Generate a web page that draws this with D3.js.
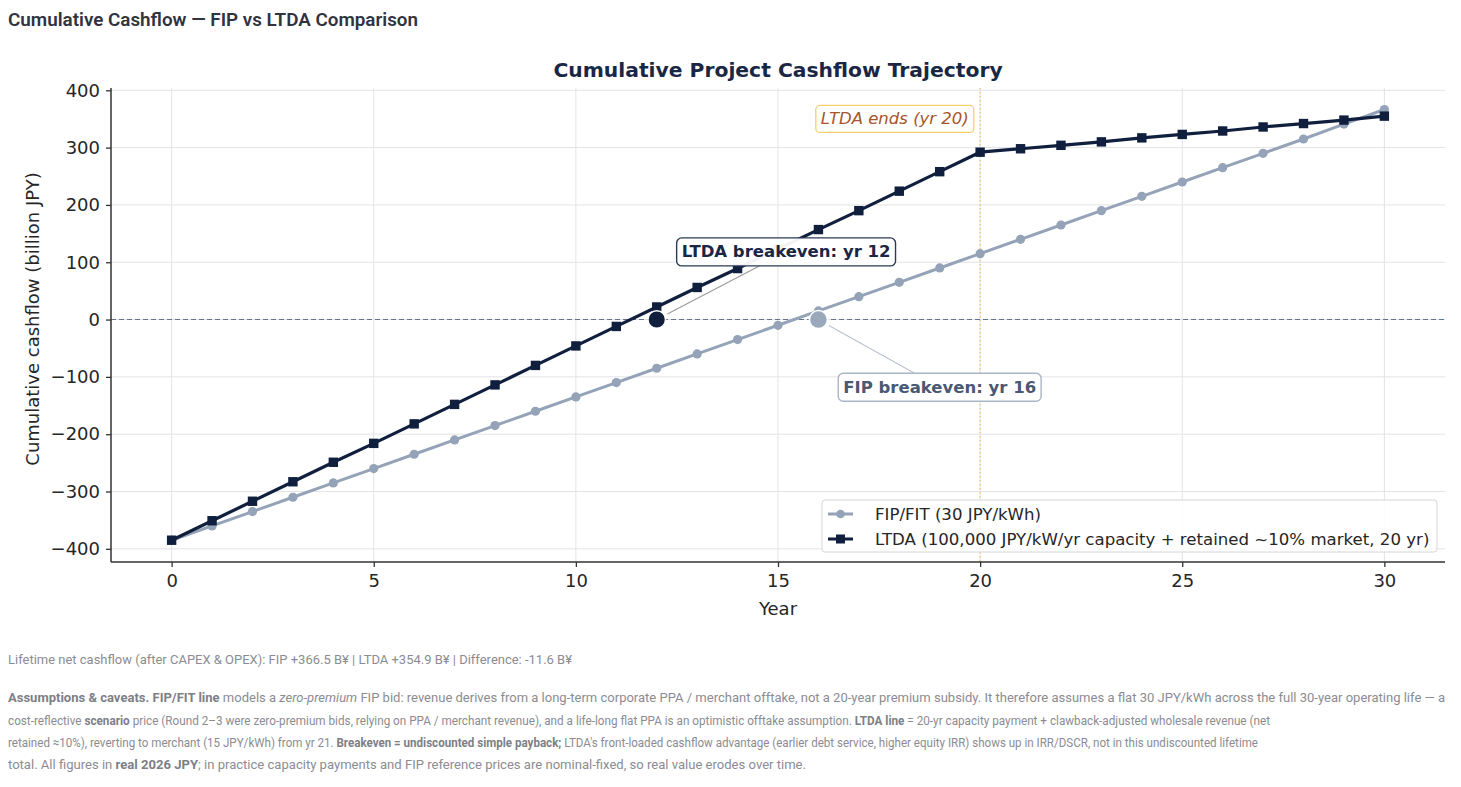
<!DOCTYPE html>
<html>
<head>
<meta charset="utf-8">
<script src="https://cdn.jsdelivr.net/npm/d3@7"></script>
<style>
  body { margin: 0; background: #fff; }
  #page { position: relative; width: 1461px; height: 787px; overflow: hidden; }
  .line {
    position: absolute; left: 8px; white-space: pre; line-height: 20px;
    font-family: "Source Sans Pro", "Liberation Sans Narrow", "Roboto", sans-serif;
    transform-origin: 0 50%;
  }
  .head { font-size: 17.5px; font-weight: 600; color: #31333f; }
  .cap { font-size: 13.5px; color: #8b8c93; }
  .cap b { font-weight: 700; color: #7d7f87; }
  svg text { font-family: "DejaVu Sans", sans-serif; }
</style>
</head>
<body>
<div id="page"><div id="my_dataviz"></div></div>
<script>
// chart data (billion JPY, cumulative)
const years = d3.range(0, 31);
const fipValues = [-385, -360, -335, -310, -285, -260, -235, -210, -185, -160, -135,
  -110, -85, -60, -35, -10, 15, 40, 65, 90, 115, 140, 165, 190, 215, 240, 265, 290,
  315, 341, 366.5];
const ltdaValues = [-385, -351, -317, -283, -249, -216, -182, -148, -114, -80, -46,
  -12, 22, 56, 89, 123, 157, 190, 224, 258, 292, 298, 304, 310, 317, 323, 329, 336,
  342, 348, 354.9];
const xTicks = [0, 5, 10, 15, 20, 25, 30];
const yTicks = [-400, -300, -200, -100, 0, 100, 200, 300, 400];
const seriesNames = ["FIP/FIT (30 JPY/kWh)",
  "LTDA (100,000 JPY/kW/yr capacity + retained ~10% market, 20 yr)"];
const breakevenYears = { ltda: 12, fip: 16 };
const ltdaEndYear = 20;

const fipColor = "#94a3b8",
  ltdaColor = "#0f1f3d";

// set the dimensions and margins of the graph
const margin = { top: 88, right: 16, bottom: 225, left: 111 },
  width = 1461 - margin.left - margin.right,
  height = 787 - margin.top - margin.bottom;

const root = d3
  .select("#my_dataviz")
  .append("svg")
  .attr("width", 1461)
  .attr("height", 787)
  .style("position", "absolute")
  .style("left", 0)
  .style("top", 0);

const svg = root.append("g").attr("transform", `translate(${margin.left},${margin.top})`);

const x = d3.scaleLinear().domain([-1.5, 31.5]).range([0, width]);
const y = d3.scaleLinear().domain([-423, 404]).range([height, 0]);

const font = "'DejaVu Sans', sans-serif";

// grid
svg
  .append("g")
  .selectAll("line")
  .data(xTicks)
  .join("line")
  .attr("x1", (d) => x(d))
  .attr("x2", (d) => x(d))
  .attr("y1", 0)
  .attr("y2", height)
  .attr("stroke", "#e3e3e6")
  .attr("stroke-width", 1);
svg
  .append("g")
  .selectAll("line")
  .data(yTicks)
  .join("line")
  .attr("x1", 0)
  .attr("x2", width)
  .attr("y1", (d) => y(d))
  .attr("y2", (d) => y(d))
  .attr("stroke", "#e3e3e6")
  .attr("stroke-width", 1);

// zero line
svg
  .append("line")
  .attr("x1", 0)
  .attr("x2", width)
  .attr("y1", y(0))
  .attr("y2", y(0))
  .attr("stroke", "#64748b")
  .attr("stroke-width", 1.1)
  .attr("stroke-dasharray", "5,3");

// LTDA end marker
svg
  .append("line")
  .attr("x1", x(ltdaEndYear))
  .attr("x2", x(ltdaEndYear))
  .attr("y1", 0)
  .attr("y2", height)
  .attr("stroke", "#f0c060")
  .attr("stroke-width", 1.2)
  .attr("stroke-dasharray", "1.5,2.5");

// axes
const xAxis = svg
  .append("g")
  .attr("transform", `translate(0, ${height})`)
  .call(d3.axisBottom(x).tickValues(xTicks).tickSize(5).tickPadding(7));
const yAxis = svg
  .append("g")
  .call(d3.axisLeft(y).tickValues(yTicks).tickSize(5).tickPadding(6)
    .tickFormat((d) => (d < 0 ? "\u2212" + Math.abs(d) : d)));
[xAxis, yAxis].forEach((a) => {
  a.attr("font-family", null);
  a.select(".domain").attr("stroke", "#333").attr("stroke-width", 1.5);
  a.selectAll(".tick line").attr("stroke", "#333").attr("stroke-width", 1.3);
  a.selectAll("text").style("font-family", font).style("font-size", "18px").attr("fill", "#262626");
});
yAxis.select(".domain").attr("d", `M0,${height}V0`);
xAxis.select(".domain").attr("d", `M0,0H${width}`);

// axis labels
svg
  .append("text")
  .attr("x", width / 2)
  .attr("y", height + 53)
  .attr("text-anchor", "middle")
  .style("font-family", font)
  .style("font-size", "18px")
  .attr("fill", "#262626")
  .text("Year");
svg
  .append("text")
  .attr("transform", `translate(${32 - margin.left}, ${height / 2 - 6}) rotate(-90)`)
  .attr("text-anchor", "middle")
  .attr("dominant-baseline", "central")
  .style("font-family", font)
  .style("font-size", "18px")
  .attr("fill", "#262626")
  .text("Cumulative cashflow (billion JPY)");

// chart title
svg
  .append("text")
  .attr("x", width / 2)
  .attr("y", -11)
  .attr("text-anchor", "middle")
  .style("font-family", font)
  .style("font-size", "20.3px")
  .style("font-weight", "bold")
  .attr("fill", "#1a2744")
  .text("Cumulative Project Cashflow Trajectory");

// lines
const fipData = years.map((yr, i) => ({ yr, v: fipValues[i] }));
const ltdaData = years.map((yr, i) => ({ yr, v: ltdaValues[i] }));
const line = d3.line().x((d) => x(d.yr)).y((d) => y(d.v));

svg.append("path").datum(fipData).attr("d", line)
  .attr("fill", "none").attr("stroke", fipColor).attr("stroke-width", 3);
svg.append("g").selectAll("circle").data(fipData).join("circle")
  .attr("cx", (d) => x(d.yr)).attr("cy", (d) => y(d.v)).attr("r", 4.6)
  .attr("fill", fipColor);

svg.append("path").datum(ltdaData).attr("d", line)
  .attr("fill", "none").attr("stroke", ltdaColor).attr("stroke-width", 3.2);
svg.append("g").selectAll("rect").data(ltdaData).join("rect")
  .attr("x", (d) => x(d.yr) - 4.7).attr("y", (d) => y(d.v) - 4.7)
  .attr("width", 9.4).attr("height", 9.4)
  .attr("fill", ltdaColor);

// annotation boxes with connector lines
function annotate(px, py, cx, cy, label, opts) {
  const g = svg.append("g");
  const t = g.append("text")
    .attr("x", cx).attr("y", cy)
    .attr("text-anchor", "middle")
    .attr("dominant-baseline", "central")
    .style("font-family", font)
    .style("font-size", "16.5px")
    .style("font-weight", "bold")
    .attr("fill", opts.text)
    .text(label);
  const bb = t.node().getBBox();
  const padX = 5, padY = 5;
  const bx0 = bb.x - padX, bx1 = bb.x + bb.width + padX;
  const by0 = cy - 9 - padY, by1 = cy + 9 + padY;
  // connector from point toward box centre, stopped where it enters the box
  const dx = cx - px, dy = cy - py;
  const len = Math.hypot(dx, dy);
  const tEdge = Math.max(
    ((dx > 0 ? bx0 : bx1) - px) / dx,
    ((dy > 0 ? by0 : by1) - py) / dy
  );
  const t0 = 12 / len;
  g.insert("line", "text")
    .attr("x1", px + dx * t0).attr("y1", py + dy * t0)
    .attr("x2", px + dx * tEdge).attr("y2", py + dy * tEdge)
    .attr("stroke", opts.conn).attr("stroke-width", 1.1);
  g.insert("rect", "text")
    .attr("x", bx0).attr("y", by0)
    .attr("width", bx1 - bx0).attr("height", by1 - by0)
    .attr("rx", 5)
    .attr("fill", "#fff").attr("fill-opacity", 0.95)
    .attr("stroke", opts.border).attr("stroke-width", 1.4);
}

// breakeven markers
svg.append("circle")
  .attr("cx", x(breakevenYears.ltda)).attr("cy", y(0)).attr("r", 8.8)
  .attr("fill", ltdaColor).attr("stroke", "#fff").attr("stroke-width", 1.5);
svg.append("circle")
  .attr("cx", x(breakevenYears.fip)).attr("cy", y(0)).attr("r", 9)
  .attr("fill", "#9aa8bc").attr("stroke", "#fff").attr("stroke-width", 1.5);

annotate(x(breakevenYears.ltda), y(0), x(15.2), y(118),
  "LTDA breakeven: yr " + breakevenYears.ltda,
  { text: "#1a2744", border: "#2d3a55", conn: "#9a9a9a" });
annotate(x(breakevenYears.fip), y(0), x(19), y(-118),
  "FIP breakeven: yr " + breakevenYears.fip,
  { text: "#4a5872", border: "#aab5c8", conn: "#b9c2cf" });

// LTDA ends label
const endG = svg.append("g");
const endT = endG.append("text")
  .attr("x", x(19.72)).attr("y", y(350))
  .attr("text-anchor", "end")
  .attr("dominant-baseline", "central")
  .style("font-family", font)
  .style("font-size", "16.5px")
  .style("font-style", "italic")
  .attr("fill", "#a5562a")
  .text("LTDA ends (yr " + ltdaEndYear + ")");
const eb = endT.node().getBBox();
endG.insert("rect", "text")
  .attr("x", eb.x - 5).attr("y", y(350) - 13.5)
  .attr("width", eb.width + 10).attr("height", 27)
  .attr("rx", 4)
  .attr("fill", "#fff")
  .attr("stroke", "#f6cf70").attr("stroke-width", 1.3);

// legend
const lg = svg.append("g").attr("transform", `translate(${822 - margin.left}, ${500 - margin.top})`);
lg.append("rect")
  .attr("width", 615).attr("height", 52).attr("rx", 3)
  .attr("fill", "#fff").attr("fill-opacity", 0.85)
  .attr("stroke", "#d6d6d6");
[
  { name: seriesNames[0], color: fipColor, shape: "circle", yy: 14 },
  { name: seriesNames[1], color: ltdaColor, shape: "square", yy: 39 },
].forEach((s) => {
  lg.append("line").attr("x1", 6).attr("x2", 31).attr("y1", s.yy).attr("y2", s.yy)
    .attr("stroke", s.color).attr("stroke-width", 3);
  if (s.shape === "circle") {
    lg.append("circle").attr("cx", 18.5).attr("cy", s.yy).attr("r", 4.3).attr("fill", s.color);
  } else {
    lg.append("rect").attr("x", 14).attr("y", s.yy - 4.5).attr("width", 9).attr("height", 9).attr("fill", s.color);
  }
  lg.append("text").attr("x", 53).attr("y", s.yy)
    .attr("dominant-baseline", "central")
    .style("font-family", font).style("font-size", "16.6px")
    .attr("fill", "#262626")
    .text(s.name);
});

// page heading and caption lines, each stretched to its width in the page
const page = d3.select("#page");
const textLines = [
  { cls: "head", top: 10, w: 410, html: "Cumulative Cashflow \u2014 FIP vs LTDA Comparison" },
  { cls: "cap", top: 649, w: 564, html: "Lifetime net cashflow (after CAPEX &amp; OPEX): FIP +366.5 B\u00a5 | LTDA +354.9 B\u00a5 | Difference: -11.6 B\u00a5" },
  { cls: "cap", top: 687, w: 1437, html: "<b>Assumptions &amp; caveats.</b> <b>FIP/FIT line</b> models a <i>zero-premium</i> FIP bid: revenue derives from a long-term corporate PPA / merchant offtake, not a 20-year premium subsidy. It therefore assumes a flat 30 JPY/kWh across the full 30-year operating life \u2014 a" },
  { cls: "cap", top: 709.5, w: 1262, html: "cost-reflective <b>scenario</b> price (Round 2\u20133 were zero-premium bids, relying on PPA / merchant revenue), and a life-long flat PPA is an optimistic offtake assumption. <b>LTDA line</b> = 20-yr capacity payment + clawback-adjusted wholesale revenue (net" },
  { cls: "cap", top: 732, w: 1250, html: "retained \u224810%), reverting to merchant (15 JPY/kWh) from yr 21. <b>Breakeven = undiscounted simple payback;</b> LTDA's front-loaded cashflow advantage (earlier debt service, higher equity IRR) shows up in IRR/DSCR, not in this undiscounted lifetime" },
  { cls: "cap", top: 754, w: 798, html: "total. All figures in <b>real 2026 JPY</b>; in practice capacity payments and FIP reference prices are nominal-fixed, so real value erodes over time." },
];
textLines.forEach((l) => {
  const div = page.append("div").attr("class", "line " + l.cls)
    .style("top", l.top + "px").html(l.html);
  const w = div.node().getBoundingClientRect().width;
  div.style("transform", `scaleX(${l.w / w})`);
});
</script>
</body>
</html>
